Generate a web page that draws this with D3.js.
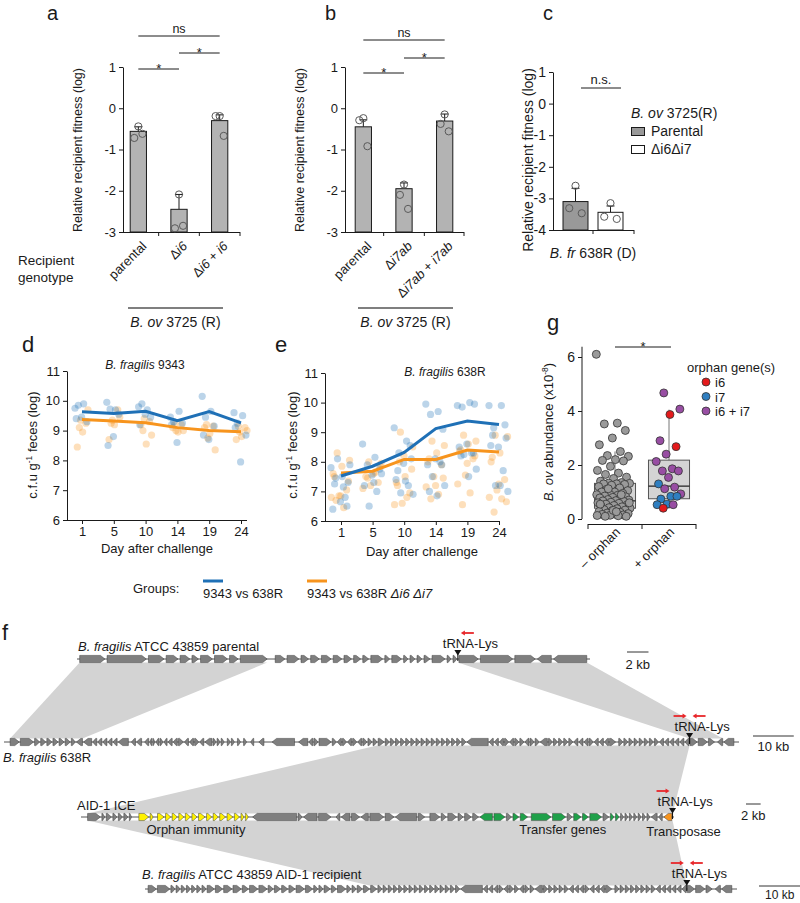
<!DOCTYPE html>
<html><head><meta charset="utf-8">
<script src="https://cdn.jsdelivr.net/npm/d3@7"></script>
<style>
body{margin:0;background:#fff}
svg{display:block}
text{font-family:"Liberation Sans",Arial,Helvetica,sans-serif;fill:#1a1a1a}
</style>
</head><body>
<svg id="fig" width="800" height="903"></svg>
<script>
// ================= DATA =================
// Panel a
const labelsA = [[["parental",0]], [["Δ",0],["i6",1]], [["Δ",0],["i6",1],[" + ",0],["i6",1]]];
const meansA = [-0.56, -2.45, -0.3];
const sdA = [0.11, 0.36, 0.14];
const pointsA = [[-0.44, -0.72, -0.62], [-2.09, -2.91, -2.85], [-0.19, -0.19, -0.67]];
const sigA = [[0,1,"*"],[1,2,"*"],[0,2,"ns"]];
// Panel b
const labelsB = [[["parental",0]], [["Δ",0],["i7ab",1]], [["Δ",0],["i7ab",1],[" + ",0],["i7ab",1]]];
const meansB = [-0.45, -1.95, -0.31];
const sdB = [0.17, 0.14, 0.17];
const pointsB = [[-0.24, -0.29, -0.92], [-1.85, -2.1, -2.44], [-0.15, -0.38, -0.56]];
const sigB = [[0,1,"*"],[1,2,"*"],[0,2,"ns"]];
// Panel c
const legendC = ["Parental", "Δi6Δi7"];
const meansC = [-3.1, -3.44];
const sdC = [0.42, 0.2];
const pointsC = [[-2.6, -3.31, -3.47], [-3.15, -3.58, -3.65]];
// Panels d, e
const days = [1, 5, 10, 14, 19, 24];
const lineBlueD = [9.63, 9.57, 9.65, 9.33, 9.64, 9.26];
const lineOrangeD = [9.37, 9.32, 9.26, 9.1, 9.0, 8.96];
const ptsBlueD = [
  [9.75, 9.9, 9.85, 9.3, 9.45, 9.4],
  [9.95, 9.7, 9.72, 9.55, 8.8, 8.5],
  [9.8, 9.7, 9.9, 9.45, 9.55, 9.2],
  [9.45, 9.65, 9.3, 9.25, 8.6, 9.2],
  [10.15, 9.65, 9.45, 9.15, 8.7, 8.85],
  [9.6, 9.5, 9.25, 8.85, 7.95, 9.1]];
const ptsOrangeD = [
  [9.1, 9.7, 8.95, 8.45, 9.25, 9.35],
  [9.25, 9.45, 9.2, 8.7, 9.7, 9.35],
  [9.0, 8.85, 8.55, 9.2, 9.3, 9.4],
  [9.2, 9.0, 8.95, 9.1, 9.2, 9.0],
  [9.2, 8.35, 8.9, 9.1, 9.15, 8.75],
  [9.15, 9.0, 8.8, 8.7, 9.1, 8.95]];
const lineBlueE = [7.52, 7.85, 8.32, 9.12, 9.38, 9.26];
const lineOrangeE = [7.62, 7.68, 8.08, 8.08, 8.4, 8.33];
const ptsBlueE = [
  [7.8, 7.15, 7.45, 7.3, 6.65, 6.4, 6.8, 8.1, 7.9, 7.5, 7.25, 6.5],
  [8.6, 8.15, 7.9, 7.75, 7.55, 7.2, 7.0, 6.5, 7.6, 7.3],
  [9.15, 8.7, 8.3, 8.1, 7.95, 7.4, 7.2, 6.95, 6.9, 7.35, 7.7, 8.55],
  [9.95, 9.7, 9.6, 9.1, 8.1, 7.9, 8.0, 7.5, 7.2, 6.85, 7.0, 7.9],
  [9.9, 10.0, 9.85, 9.95, 8.6, 8.5, 8.3, 8.25, 7.75, 7.5, 8.2, 8.3],
  [9.9, 9.9, 9.15, 8.8, 8.5, 8.55, 7.7, 7.2, 7.0, 7.2, 8.9, 9.25]];
const ptsOrangeE = [
  [8.3, 8.05, 7.85, 7.5, 7.05, 6.85, 6.8, 6.45, 6.7, 7.35, 6.85, 7.6],
  [8.0, 7.95, 7.6, 7.5, 7.3, 7.2, 7.1, 7.65, 7.45, 7.85],
  [9.0, 8.5, 7.5, 7.2, 6.95, 6.6, 6.55, 6.8, 8.0, 7.75, 8.2, 7.3],
  [8.7, 8.55, 8.3, 8.1, 7.9, 7.5, 7.15, 6.9, 6.75, 7.45, 7.2, 8.0],
  [8.9, 8.7, 8.6, 8.4, 8.1, 7.55, 7.25, 6.95, 6.55, 8.2, 7.95, 8.35],
  [8.9, 8.85, 8.3, 8.15, 7.4, 7.05, 6.8, 6.75, 6.3, 6.65, 7.25, 8.0]];
const groupNames = [[["9343 vs 638R",0]], [["9343 vs 638R ",0],["Δi6 Δi7",1]]];
// Panel g
const gCats = ["– orphan", "+ orphan"];
const boxQ1 = [0.4, 0.75], boxMed = [0.67, 1.22], boxQ3 = [1.32, 2.18], boxLo = [0.1, 0.38], boxHi = [2.5, 4.05];
const gNoOrphan = [6.1, 3.55, 3.52, 3.28, 3.0, 2.75, 2.5, 2.35, 2.32, 2.2, 2.17, 2.15, 1.95, 1.8, 1.7, 1.65, 1.55, 1.5, 1.4, 1.35,
  1.33, 1.32, 1.3, 1.3, 1.28, 1.25, 1.2, 1.15, 1.1, 1.05, 1.0, 1.0, 0.95, 0.92, 0.9, 0.88, 0.85, 0.82, 0.8, 0.78,
  0.75, 0.72, 0.7, 0.68, 0.67, 0.65, 0.62, 0.6, 0.58, 0.55, 0.52, 0.5, 0.48, 0.45, 0.42, 0.4, 0.38, 0.35, 0.33, 0.3,
  0.28, 0.25, 0.22, 0.2, 0.18, 0.17, 0.15, 0.14, 0.13, 0.12, 0.1, 0.1, 0.32, 0.55, 0.9, 1.12, 0.6, 0.27];
const gOrphanVals = [4.67, 4.07, 3.87, 2.9, 2.68, 2.4, 2.13, 1.86, 1.78, 1.78, 1.54, 1.3, 1.18, 1.12, 0.93, 0.84, 0.74, 0.84, 0.55, 0.53, 0.53, 0.4];
const gOrphanType = ["i6 + i7","i6 + i7","i6","i6 + i7","i6","i6 + i7","i6 + i7","i6 + i7","i6 + i7","i6 + i7","i6 + i7","i7","i6 + i7","i6 + i7","i6 + i7","i7","i7","i7","i7","i7","i6 + i7","i6"];
const orphanClasses = ["i6", "i7", "i6 + i7"];
// Panel f: gene maps (F/R strand, length in kb, xN repeats, :colour, g = spacer kb, @ = anchor, T = tRNA-Lys)
const genesParental = "g.25 @s F2.35 F3.65 F1.45 F1.1 F.9 F.6 F1.1 F1.2 F.8 F2.5 @a g.55 F.9 F1.1 F.7 F.8 F.9 F.8 F.7 F.65 F.55 F1.1 F.45 F.9 F.4 F.45 F.45 F.55 F1.2 F.35 F.35 T F1.8 F3 F1.9 R1.3 R3.1 @e g.3";
const genes638Left = "g1.5 @s F2.25 F3.25 F1.25x6 F1 R1.5 @b R2 R1x5 R2.5 g.5 R1 R1.25 g.5 R1 R.5 F.5 R.75 F.75 R.75 R1 R1 F1.25 R1 R1 F1 R1 R1.75 F.75x3 g.5 F.75x2 g.5 F.75 g.5 F.75 g.75 R.75 g1 R1.25 g1.75 R5.5 g.75 R2.25 R1 F1 F3 F1 R1 F1 R1 F1 R1 F1x3";
const genes638Right = "@c F1.5 F1x16 R5.25 R1x3 F1 R1 F1x2 R1 F1x2 R1.75 F1x4 F1 R1x3 F1 R1x3 F1.5 g.5 F1x8 R1x6 T F1.75 F2.25 F1.5 g.5 R1.25 @d R2.5 g1.25";
const genesICE = "g.9 @s F1.75 F.4 F.7 F.55 F.55 F.55 F.3 g.8 F1.35:y F.4:y g.4 F.9:y F.7:y F.7:y F.7:y F.7:y F.7:y F.9:y F.7:y F.7:y F.8:y F.8:y F.7:y F.4:y F.4:y g.4 R6 F.55 R1.85 F1.7 g.5 R.5 R1.2 F1.1 R1 F1.9 F1.2 R2.9 F.9 g.5 F1.35 F.7 F1.2 F.7 F.9 F.8 R1.7:n F1.5:n F.7 F.8:n F1:n g.3 F2.7:n F1.8:n F.7 F1:n F.8:n F1.6:n F.8 F.5:n F.5:n F.4x7 R.8 R.5 R1.1:o T g.3";
const genesRecipLeft = "g.75 @s F2 F3 F1x7 F1.75 F1.75 F2 F2 F1.5 F2 F2 F1.25 F1.5 F1.5 F1.5 F2 F1.75 F1x2 F1.5 F1.25 F2 F1x2 F1.25 F1.5";
const trackNames = {
  t1: [["B. fragilis",1],[" ATCC 43859 parental",0]],
  t2: [["B. fragilis",1],[" 638R",0]],
  t3: [["AID-1 ICE",0]],
  t4: [["B. fragilis",1],[" ATCC 43859 AID-1 recipient",0]]
};
const scaleBarsKb = {t1: 2, t2: 10, t3: 2, t4: 10};
const shadeLinks = [["t1","@s","@a","t2","@s","@b"], ["t1","T","@e","t2","T","@d"], ["t2","@c","T","t3","@s","T"], ["t3","@s","T","t4","@c","T"]];
const primers = [["t1",-1],["t2",1],["t2",-1],["t3",1],["t4",1],["t4",-1]];
const iceNotes = [["Orphan immunity", 15.7], ["Transfer genes", 65.8], ["Transposase", 82.3]];

// ================= DRAWING =================
const svg = d3.select('#fig');
svg.append('rect').attr('width', 800).attr('height', 903).attr('fill', '#fff');
const INK = '#1a1a1a';
const intFmt = d => String(d);

function txt(x, y, parts, o = {}) {
  const size = o.size || 13;
  const t = svg.append('text').attr('x', x).attr('y', y).attr('font-size', size)
    .attr('text-anchor', o.anchor || 'start');
  if (o.rotate != null) t.attr('transform', `rotate(${o.rotate},${x},${y})`);
  const arr = typeof parts === 'string' ? [[parts, 0]] : parts;
  let inSup = false;
  arr.forEach(([s, it, sup]) => {
    const ts = t.append('tspan').text(s);
    if (it) ts.attr('font-style', 'italic');
    if (sup) { ts.attr('dy', -size * 0.4).attr('font-size', size * 0.65); inSup = true; }
    else if (inSup) { ts.attr('dy', size * 0.4); inSup = false; }
  });
  return t;
}
function styleAxis(g, size) {
  g.selectAll('path,line').attr('stroke', INK).attr('stroke-width', 1);
  g.selectAll('text').attr('font-size', size || 13).attr('fill', INK)
    .attr('font-family', '"Liberation Sans",Arial,sans-serif');
}

// ---- bar panels ----
function barPanel(p) {
  const y = d3.scaleLinear().domain(p.yDomain).range([p.yBot, p.yTop]);
  const x = d3.scaleBand().domain(d3.range(p.means.length)).range(p.xRange).paddingInner(p.pad).paddingOuter(p.pad / 2);
  const ax = svg.append('g').attr('transform', `translate(${p.axisX},0)`)
    .call(d3.axisLeft(y).tickValues(d3.range(p.yDomain[0], p.yDomain[1] + 1)).tickFormat(intFmt).tickSize(4).tickSizeOuter(0));
  styleAxis(ax, p.tickSize || 13);
  svg.append('line').attr('x1', p.axisX).attr('x2', p.xEnd).attr('y1', p.yBot + 0.5).attr('y2', p.yBot + 0.5).attr('stroke', INK);
  const ticks = d3.range(1, p.means.length).map(i => x(i) - x.step() * p.pad / 2).concat([p.xEnd]);
  ticks.forEach(t => svg.append('line').attr('x1', t).attr('x2', t).attr('y1', p.yBot).attr('y2', p.yBot + 4).attr('stroke', INK));
  const bw = x.bandwidth();
  p.means.forEach((m, i) => {
    const cx = x(i) + bw / 2;
    svg.append('line').attr('x1', cx).attr('x2', cx).attr('y1', y(m)).attr('y2', y(m + p.sd[i])).attr('stroke', INK);
    svg.append('line').attr('x1', cx - 4).attr('x2', cx + 4).attr('y1', y(m + p.sd[i])).attr('y2', y(m + p.sd[i])).attr('stroke', INK);
    svg.append('rect').attr('x', x(i)).attr('y', y(m)).attr('width', bw).attr('height', y(p.yDomain[0]) - y(m))
      .attr('fill', p.fills[i]).attr('stroke', INK).attr('stroke-width', 1);
    const offs = [0, -4, 4];
    p.points[i].forEach((v, j) => svg.append('circle').attr('cx', cx + offs[j] * (bw / 16)).attr('cy', y(v)).attr('r', 3.6)
      .attr('fill', 'none').attr('stroke', '#5a5a5a').attr('stroke-width', 1));
    if (p.labels) txt(cx + 9, p.yBot + 15, p.labels[i], {anchor: 'end', rotate: -45, size: 13});
  });
  if (p.sig) p.sig.forEach(([a, b, lab], k) => {
    const ly = p.sigY[k];
    const xa = x(a) + bw / 2, xb = x(b) + bw / 2;
    svg.append('line').attr('x1', xa).attr('x2', xb).attr('y1', ly).attr('y2', ly).attr('stroke', INK);
    if (lab === '*') txt((xa + xb) / 2, ly + 3.5, '*', {anchor: 'middle', size: 13});
    else txt((xa + xb) / 2, ly - 3, lab, {anchor: 'middle', size: 12.5});
  });
  return {x, y};
}

// panel a
barPanel({yDomain: [-3, 1], yTop: 67, yBot: 232, axisX: 123, xRange: [118, 240], xEnd: 240, pad: 0.6,
  means: meansA, sd: sdA, points: pointsA, fills: ['#b3b3b3', '#b3b3b3', '#b3b3b3'], labels: labelsA, sig: sigA, sigY: [69, 53, 36]});
txt(82, 150, 'Relative recipient fitness (log)', {anchor: 'middle', rotate: -90, size: 12.5});
txt(47, 20, 'a', {size: 20});
txt(18, 265, 'Recipient', {size: 13.5});
txt(18, 282, 'genotype', {size: 13.5});
// panel b
barPanel({yDomain: [-3, 1], yTop: 67, yBot: 232, axisX: 345, xRange: [343, 465], xEnd: 464, pad: 0.6,
  means: meansB, sd: sdB, points: pointsB, fills: ['#b3b3b3', '#b3b3b3', '#b3b3b3'], labels: labelsB, sig: sigB, sigY: [73, 58, 40]});
txt(304, 150, 'Relative recipient fitness (log)', {anchor: 'middle', rotate: -90, size: 12.5});
txt(325, 20, 'b', {size: 20});
// B. ov 3725 (R) group lines
[[128, 223], [358, 453]].forEach(([a, b]) => {
  svg.append('line').attr('x1', a).attr('x2', b).attr('y1', 308).attr('y2', 308).attr('stroke', '#555').attr('stroke-width', 1.5);
  txt((a + b) / 2, 327, [["B. ov", 1], [" 3725 (R)", 0]], {anchor: 'middle', size: 14});
});
// panel c
barPanel({yDomain: [-4, 1], yTop: 72, yBot: 230, axisX: 553, xRange: [558, 628], xEnd: 634, pad: 0.286,
  means: meansC, sd: sdC, points: pointsC, fills: ['#999999', '#ffffff'], tickSize: 14});
svg.append('line').attr('x1', 581).attr('x2', 621).attr('y1', 88).attr('y2', 88).attr('stroke', INK);
txt(601, 84, 'n.s.', {anchor: 'middle', size: 13});
txt(533, 160, 'Relative recipient fitness (log)', {anchor: 'middle', rotate: -90, size: 14});
txt(543, 20, 'c', {size: 20});
txt(593, 258, [["B. fr", 1], [" 638R (D)", 0]], {anchor: 'middle', size: 14});
txt(631, 118, [["B. ov", 1], [" 3725(R)", 0]], {size: 14});
legendC.forEach((l, i) => {
  svg.append('rect').attr('x', 631.5).attr('y', 127.5 + i * 18).attr('width', 13).attr('height', 8)
    .attr('fill', i === 0 ? '#999999' : '#fff').attr('stroke', INK);
  txt(651, 136 + i * 18, l, {size: 14});
});

// ---- line panels d, e ----
const BLUE = '#1f70b6', ORANGE = '#f7941d';
function linePanel(p) {
  const y = d3.scaleLinear().domain([6, 11]).range([p.yBot, p.yTop]);
  const x = d3.scalePoint().domain(days).range(p.xRange);
  const ax = svg.append('g').attr('transform', `translate(${p.axisX},0)`)
    .call(d3.axisLeft(y).tickValues(d3.range(6, 12)).tickFormat(intFmt).tickSize(4).tickSizeOuter(0));
  styleAxis(ax, 13);
  const bx = svg.append('g').attr('transform', `translate(0,${p.yBot})`)
    .call(d3.axisBottom(x).tickFormat(intFmt).tickSize(4).tickSizeOuter(0));
  bx.select('.domain').attr('d', `M${p.axisX},0.5H${p.xEnd}`);
  styleAxis(bx, 13);
  const jit = (j, sh) => (((j + sh) * 0.618034) % 1 - 0.5) * 2 * p.spread;
  [[p.ptsO, ORANGE, 0.5], [p.ptsB, BLUE, 0]].forEach(([pts, col, sh]) => {
    pts.forEach((arr, k) => arr.forEach((v, j) => svg.append('circle').attr('cx', x(days[k]) + jit(j, sh)).attr('cy', y(v))
      .attr('r', 3.6).attr('fill', col).attr('fill-opacity', 0.3)));
  });
  const line = d3.line().x((d, i) => x(days[i])).y(d => y(d));
  svg.append('path').attr('d', line(p.lineO)).attr('fill', 'none').attr('stroke', ORANGE).attr('stroke-width', 3);
  svg.append('path').attr('d', line(p.lineB)).attr('fill', 'none').attr('stroke', BLUE).attr('stroke-width', 3);
}
linePanel({yTop: 371, yBot: 520, axisX: 67, xRange: [82, 241], xEnd: 247, spread: 7,
  ptsB: ptsBlueD, ptsO: ptsOrangeD, lineB: lineBlueD, lineO: lineOrangeD});
txt(145, 369, [["B. fragilis", 1], [" 9343", 0]], {anchor: 'middle', size: 12});
txt(37, 445, [["c.f.u g", 0], ["-1", 0, 1], [" feces (log)", 0]], {anchor: 'middle', rotate: -90, size: 13});
txt(157, 553, 'Day after challenge', {anchor: 'middle', size: 13});
txt(22, 352, 'd', {size: 22});
linePanel({yTop: 373, yBot: 521, axisX: 325, xRange: [341, 499], xEnd: 500, spread: 10,
  ptsB: ptsBlueE, ptsO: ptsOrangeE, lineB: lineBlueE, lineO: lineOrangeE});
txt(445, 376, [["B. fragilis", 1], [" 638R", 0]], {anchor: 'middle', size: 12});
txt(297, 445, [["c.f.u g", 0], ["-1", 0, 1], [" feces (log)", 0]], {anchor: 'middle', rotate: -90, size: 13});
txt(422, 556, 'Day after challenge', {anchor: 'middle', size: 13});
txt(275, 352, 'e', {size: 22});
// groups legend
txt(133, 593, 'Groups:', {size: 13});
[[BLUE, 203], [ORANGE, 307]].forEach(([c, x0], i) => {
  svg.append('line').attr('x1', x0).attr('x2', x0 + 20).attr('y1', 581).attr('y2', 581).attr('stroke', c).attr('stroke-width', 3);
  txt(x0, 598, groupNames[i], {size: 13});
});

// ---- panel g ----
(function () {
  const y = d3.scaleLinear().domain([0, 6]).range([519, 357]);
  const x = d3.scaleBand().domain(gCats).range([588, 696]).paddingInner(0.24).paddingOuter(0.12);
  const ax = svg.append('g').attr('transform', 'translate(582,0)')
    .call(d3.axisLeft(y).tickValues([0, 2, 4, 6]).tickFormat(intFmt).tickSize(4).tickSizeOuter(0));
  ax.select('.domain').attr('d', `M0,${y(0)}V${y(6.38)}`);
  styleAxis(ax, 14);
  svg.append('line').attr('x1', 588).attr('x2', 696).attr('y1', 524.5).attr('y2', 524.5).attr('stroke', INK);
  [588, 642, 696].forEach(t => svg.append('line').attr('x1', t).attr('x2', t).attr('y1', 524).attr('y2', 529).attr('stroke', INK));
  const bw = x.bandwidth();
  gCats.forEach((c, i) => {
    const cx = x(c) + bw / 2;
    svg.append('line').attr('x1', cx).attr('x2', cx).attr('y1', y(boxLo[i])).attr('y2', y(boxHi[i])).attr('stroke', '#777');
    svg.append('rect').attr('x', x(c)).attr('y', y(boxQ3[i])).attr('width', bw).attr('height', y(boxQ1[i]) - y(boxQ3[i]))
      .attr('fill', '#d4d4d4').attr('stroke', '#555');
    svg.append('line').attr('x1', x(c)).attr('x2', x(c) + bw).attr('y1', y(boxMed[i])).attr('y2', y(boxMed[i])).attr('stroke', '#222').attr('stroke-width', 1.3);
    txt(cx + 6, 533, c, {anchor: 'end', rotate: -45, size: 13});
  });
  const cx0 = x(gCats[0]) + bw / 2, cx1 = x(gCats[1]) + bw / 2;
  gNoOrphan.forEach((v, j) => svg.append('circle').attr('cx', cx0 + ((j * 0.618034) % 1 - 0.55) * 34).attr('cy', y(v)).attr('r', 4)
    .attr('fill', '#9a9a9a').attr('stroke', '#333').attr('stroke-width', 0.8));
  const oc = {"i6": '#e41a1c', "i7": '#2f7fc1', "i6 + i7": '#984ea3'};
  gOrphanVals.forEach((v, j) => svg.append('circle').attr('cx', cx1 + ((j * 0.618034 + 0.3) % 1 - 0.5) * 26).attr('cy', y(v)).attr('r', 4)
    .attr('fill', oc[gOrphanType[j]]).attr('stroke', '#333').attr('stroke-width', 0.8));
  svg.append('line').attr('x1', 615).attr('x2', 671).attr('y1', 347).attr('y2', 347).attr('stroke', INK);
  txt(643, 351, '*', {anchor: 'middle', size: 13});
  txt(553, 432, [["B. ov", 1], [" abundance (x10", 0], ["-8", 0, 1], [")", 0]], {anchor: 'middle', rotate: -90, size: 13});
  txt(547, 330, 'g', {size: 22});
  txt(687, 372, 'orphan gene(s)', {size: 13});
  orphanClasses.forEach((c, i) => {
    svg.append('circle').attr('cx', 706).attr('cy', 382 + i * 14.5).attr('r', 4).attr('fill', oc[c]).attr('stroke', '#333').attr('stroke-width', 0.8);
    txt(715, 387 + i * 14.5, c, {size: 13});
  });
})();

// ---- panel f ----
function layoutTrack(str, gap) {
  let pos = 0, prevGene = false;
  const genes = [], anchors = {};
  str.trim().split(/\s+/).forEach(tok => {
    if (tok[0] === 'g') pos += +tok.slice(1);
    else if (tok[0] === '@') anchors[tok] = pos;
    else if (tok === 'T') anchors.T = pos + (prevGene ? gap / 2 : 0);
    else {
      const m = tok.match(/^([FR])([\d.]+)(?:x(\d+))?(?::(\w))?$/);
      const n = m[3] ? +m[3] : 1;
      for (let i = 0; i < n; i++) {
        if (prevGene) pos += gap;
        genes.push({s: pos, e: pos + +m[2], strand: m[1], col: m[4] || 'g'});
        pos += +m[2]; prevGene = true;
      }
    }
  });
  return {genes, anchors, total: pos};
}
const trackDefs = {
  t1: {str: genesParental, gap: 0.2, x0: 77, x1: 590, y: 659},
  t2: {str: genes638Left + ' ' + genes638Right, gap: 0.25, x0: 4, x1: 739, y: 742},
  t3: {str: genesICE, gap: 0.2, x0: 81, x1: 674, y: 817},
  t4: {str: genesRecipLeft + ' ' + genes638Right, gap: 0.25, x0: 145, x1: 737, y: 889}
};
const H = 3.6;
Object.values(trackDefs).forEach(t => {
  Object.assign(t, layoutTrack(t.str, t.gap));
  t.sc = d3.scaleLinear().domain([0, t.total]).range([t.x0, t.x1]);
});
const pos = (t, a) => t.sc(t.anchors[a]);
shadeLinks.forEach(([ta, a0, a1, tb, b0, b1]) => {
  const A = trackDefs[ta], B = trackDefs[tb];
  svg.append('path').attr('d', `M${pos(A, a0)},${A.y + H}L${pos(A, a1)},${A.y + H}L${pos(B, b1)},${B.y - H}L${pos(B, b0)},${B.y - H}Z`)
    .attr('fill', '#d3d3d3');
});
const geneCol = {g: '#7f7f7f', y: '#fff200', n: '#1fa049', o: '#f7941d'};
function genePath(x0, x1, y, strand) {
  const len = x1 - x0, head = Math.min(len * 0.75, 4.5);
  if (strand === 'F') return `M${x0},${y - H}L${x1 - head},${y - H}L${x1},${y}L${x1 - head},${y + H}L${x0},${y + H}Z`;
  return `M${x1},${y - H}L${x0 + head},${y - H}L${x0},${y}L${x0 + head},${y + H}L${x1},${y + H}Z`;
}
const trackLabelPos = {t1: [78, 651], t2: [3, 762], t3: [77, 810], t4: [142, 879]};
const barLayout = {t1: [627, 652, 669], t2: [753, 736, 751], t3: [746, 804, 820], t4: [759, 886, 899]};
Object.entries(trackDefs).forEach(([k, t]) => {
  svg.append('line').attr('x1', t.x0).attr('x2', t.x1).attr('y1', t.y).attr('y2', t.y).attr('stroke', '#555').attr('stroke-width', 1);
  t.genes.forEach(g => svg.append('path').attr('d', genePath(t.sc(g.s), t.sc(g.e), t.y, g.strand))
    .attr('fill', geneCol[g.col]).attr('stroke', '#3a3a3a').attr('stroke-width', 0.5));
  const tx = t.sc(t.anchors.T);
  svg.append('line').attr('x1', tx).attr('x2', tx).attr('y1', t.y - 5).attr('y2', t.y + 2).attr('stroke', '#111').attr('stroke-width', 1);
  svg.append('path').attr('d', `M${tx - 3.5},${t.y - 9}L${tx + 3.5},${t.y - 9}L${tx},${t.y - 3.5}Z`).attr('fill', '#111');
  txt(tx - 15, t.y - 11, 'tRNA-Lys', {size: 13});
  txt(trackLabelPos[k][0], trackLabelPos[k][1], trackNames[k], {size: 13});
  const kb = scaleBarsKb[k], bl = barLayout[k];
  const w = t.sc(kb) - t.sc(0);
  svg.append('line').attr('x1', bl[0]).attr('x2', bl[0] + w).attr('y1', bl[1]).attr('y2', bl[1]).attr('stroke', '#333').attr('stroke-width', 1);
  txt(bl[0] + w / 2, bl[2], kb + ' kb', {anchor: 'middle', size: k === 't4' ? 12 : 13});
});
primers.forEach(([k, dir]) => {
  const t = trackDefs[k], tx = t.sc(t.anchors.T), yy = t.y - 26;
  const xs = dir > 0 ? tx - 16 : tx + 16, xe = dir > 0 ? tx - 3 : tx + 3;
  svg.append('line').attr('x1', xs).attr('x2', xe - dir * 3).attr('y1', yy).attr('y2', yy).attr('stroke', '#e8262a').attr('stroke-width', 1.8);
  svg.append('path').attr('d', `M${xe},${yy}L${xe - dir * 4},${yy - 2.5}L${xe - dir * 4},${yy + 2.5}Z`).attr('fill', '#e8262a');
});
iceNotes.forEach(([s, kb]) => txt(trackDefs.t3.sc(kb), s === 'Transposase' ? 836 : 834, s, {anchor: 'middle', size: 13}));
txt(2, 640, 'f', {size: 22});
</script>
</body></html>
